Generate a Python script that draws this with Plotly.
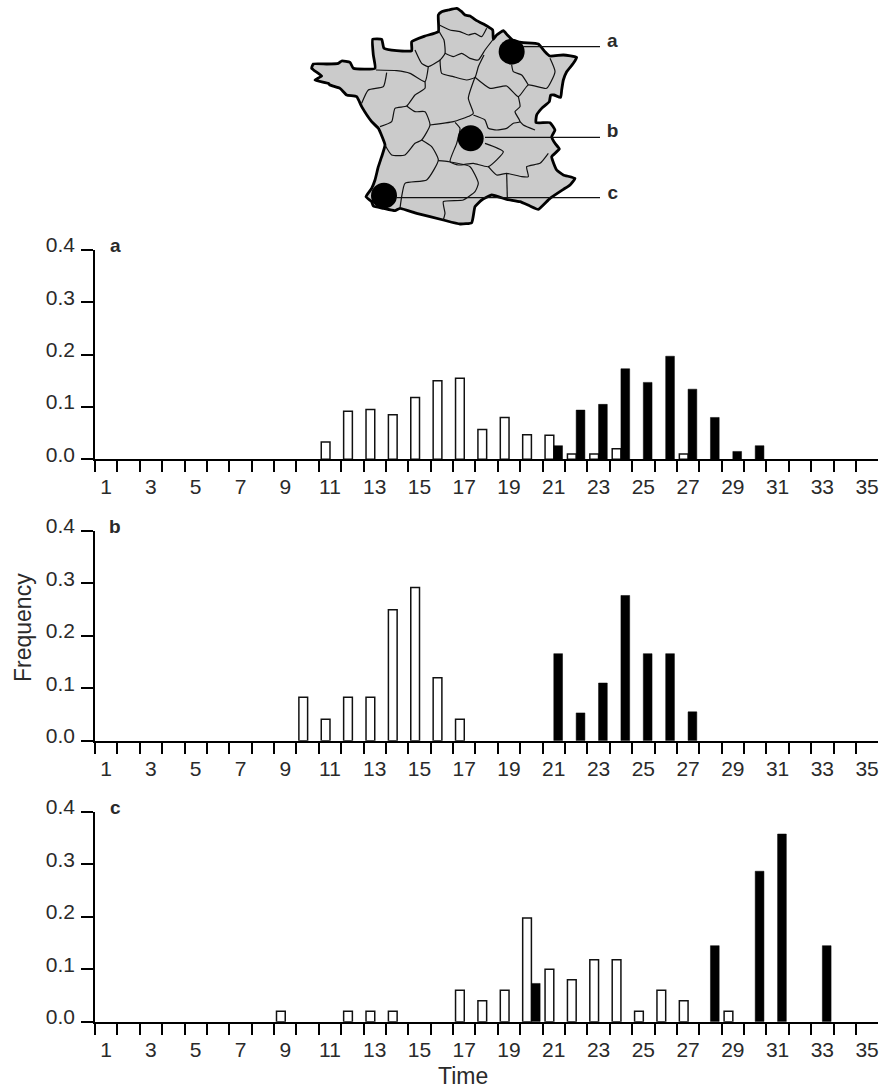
import plotly.graph_objects as go

W, H = 880, 1088
categories = list(range(1, 36))
tick_labels = list(range(1, 36, 2))
y_ticks = [0.0, 0.1, 0.2, 0.3, 0.4]

a_open = {11:.033,12:.092,13:.095,14:.085,15:.118,16:.15,17:.155,18:.057,19:.08,20:.047,21:.046,22:.01,23:.01,24:.02,27:.01}
a_solid = {21:.026,22:.094,23:.105,24:.173,25:.147,26:.197,27:.134,28:.08,29:.015,30:.026}
b_open = {10:.083,11:.041,12:.083,13:.083,14:.25,15:.292,16:.12,17:.041}
b_solid = {21:.166,22:.053,23:.11,24:.277,25:.166,26:.166,27:.055}
c_open = {9:.02,12:.02,13:.02,14:.02,17:.06,18:.04,19:.06,20:.198,21:.1,22:.08,23:.118,24:.118,25:.02,26:.06,27:.04,29:.02}
c_solid = {20:.073,28:.145,30:.287,31:.358,33:.145}

map_outline = [(415,45),(425,35),(445,30),(470,25),(485,35),(495,45),(510,48),(530,62),(550,72),(578,90),(580,118),(590,105),(610,92),(622,105),(640,122),(670,128),(715,132),(735,155),(750,168),(790,165),(830,172),(820,190),(800,215),(790,240),(785,270),(782,292),(762,285),(752,285),(748,305),(725,325),(710,345),(708,368),(750,368),(765,390),(755,410),(765,430),(778,447),(755,470),(770,510),(790,525),(825,535),(810,555),(790,568),(750,595),(715,628),(690,618),(660,605),(620,598),(575,585),(545,600),(525,620),(515,668),(480,672),(430,660),(350,640),(300,625),(285,632),(250,625),(220,618),(215,605),(198,590),(215,565),(225,540),(235,500),(245,470),(255,435),(235,385),(215,365),(185,320),(170,290),(140,285),(120,265),(90,255),(85,250),(45,240),(65,228),(35,205),(40,192),(80,192),(115,190),(125,183),(150,187),(160,205),(225,205),(220,165),(218,118),(245,118),(252,145),(290,152),(335,152),(335,125),(375,108),(415,95),(415,45)]
map_borders = [
 [(418,75),(450,90),(480,95),(505,105),(525,100),(545,110),(560,85)],
 [(418,75),(418,95),(432,120),(435,160),(420,180),(385,200),(365,190),(345,150)],
 [(435,160),(460,170),(485,160),(510,175),(535,180),(555,150),(578,120)],
 [(420,180),(425,220),(460,230),(500,240),(525,232),(535,200),(552,165)],
 [(228,210),(290,212),(330,220),(375,245),(385,200)],
 [(260,218),(250,260),(205,270),(185,310)],
 [(375,245),(375,265),(345,285),(320,318),(285,325),(275,365),(240,380)],
 [(320,318),(345,335),(375,335),(390,375),(365,420),(345,430),(315,465),(275,465),(255,435)],
 [(390,375),(460,365),(510,347),(520,340),(505,295),(525,232)],
 [(525,232),(570,265),(620,258),(655,290),(685,255),(740,265),(765,215),(750,175)],
 [(635,195),(640,215),(665,225),(685,255)],
 [(655,290),(660,320),(645,335),(660,365),(640,370),(620,385),(590,390),(565,385),(555,360),(520,345)],
 [(660,365),(670,375),(705,390)],
 [(465,367),(480,385),(470,430),(450,485),(475,495),(520,490),(565,500),(610,455),(555,430)],
 [(365,420),(395,440),(415,480),(380,540),(315,550),(305,590),(300,625)],
 [(415,482),(445,485),(510,500),(535,550),(525,575),(490,600),(430,605),(435,640),(430,660)],
 [(565,500),(590,525),(620,520),(665,530),(685,530),(680,500),(720,490),(745,460)],
 [(620,520),(622,595)],
]
site_names = ["a", "b", "c"]
site_x = [635, 512, 252]
site_y = [155, 415, 587]
leader_start = [670, 555, 290]
leader_y = [140, 412, 593]
leader_end = 900
label_x = [937, 938, 938]
label_y = [127, 397, 582]

panels = [("a", a_open, a_solid, 250, 459.3),
          ("b", b_open, b_solid, 531, 740.7),
          ("c", c_open, c_solid, 812, 1021.7)]

TXT = "#2a2a2a"
FONT = "Liberation Sans"
fig = go.Figure()
X0, X1 = 95, 878.3

def pick(d):
    return [d.get(c) for c in categories]

for i, (name, op, so, ytop, ybot) in enumerate(panels):
    s = "" if i == 0 else str(i + 1)
    fig.add_bar(x=categories, y=pick(op), xaxis="x" + s, yaxis="y" + s, marker=dict(color="white", line=dict(color="#111", width=1.5)), offsetgroup="o", showlegend=False)
    fig.add_bar(x=categories, y=pick(so), xaxis="x" + s, yaxis="y" + s, marker=dict(color="black", line=dict(color="black", width=0.5)), offsetgroup="s", showlegend=False)
    fig.layout["xaxis" + s] = dict(
        domain=[X0 / W, X1 / W], range=[0.5, 35.5], anchor="y" + s,
        tickmode="array", tickvals=tick_labels, ticktext=[str(t) for t in tick_labels],
        ticks="outside", ticklen=8, tickcolor="rgba(0,0,0,0)", tickfont=dict(family=FONT, size=21, color=TXT),
        showline=True, linecolor="black", linewidth=1.8, showgrid=False, zeroline=False,
        minor=dict(tickmode="array", tickvals=[c - 0.5 for c in categories], ticks="outside", ticklen=11, tickcolor="black", tickwidth=1.5, showgrid=False),
    )
    fig.layout["yaxis" + s] = dict(
        domain=[1 - ybot / H, 1 - ytop / H], range=[0, 0.4], anchor="x" + s,
        tickmode="array", tickvals=y_ticks, ticktext=["%.1f" % v for v in y_ticks],
        ticks="outside", ticklen=12, tickwidth=1.8, tickcolor="black", tickfont=dict(family=FONT, size=21, color=TXT),
        ticklabelshift=-5, ticklabelstandoff=2,
        showline=True, linecolor="black", linewidth=1.5, showgrid=False, zeroline=False,
    )
    fig.add_annotation(text="<b>%s</b>" % name, xref="paper", yref="paper", x=115 / W, y=1 - (ytop - 5) / H, xanchor="center", yanchor="middle", showarrow=False, font=dict(family=FONT, size=19, color=TXT))

# map
fig.add_scatter(x=[p[0] for p in map_outline], y=[p[1] for p in map_outline], xaxis="x4", yaxis="y4", mode="lines", fill="toself", fillcolor="#cbcbcb", line=dict(color="black", width=2.8, shape="spline", smoothing=0.4), showlegend=False)
for b in map_borders:
    fig.add_scatter(x=[p[0] for p in b], y=[p[1] for p in b], xaxis="x4", yaxis="y4", mode="lines", line=dict(color="#111", width=1.2, shape="spline", smoothing=0.5), showlegend=False)
for sx, ly in zip(leader_start, leader_y):
    fig.add_scatter(x=[sx, leader_end], y=[ly, ly], xaxis="x4", yaxis="y4", mode="lines", line=dict(color="#111", width=1.2), showlegend=False)
fig.add_scatter(x=site_x, y=site_y, xaxis="x4", yaxis="y4", mode="markers", marker=dict(color="black", size=26), showlegend=False)
fig.add_scatter(x=label_x, y=label_y, xaxis="x4", yaxis="y4", mode="text", text=["<b>%s</b>" % n for n in site_names], textfont=dict(family=FONT, size=19, color=TXT), showlegend=False)

fig.layout.xaxis4 = dict(domain=[300 / W, 640 / W], range=[0, 1020], visible=False, anchor="y4")
fig.layout.yaxis4 = dict(domain=[1 - 230 / H, 1], range=[690, 0], visible=False, anchor="x4")

fig.add_annotation(text="Frequency", xref="paper", yref="paper", x=23 / W, y=1 - 628 / H, xanchor="center", yanchor="middle", textangle=-90, showarrow=False, font=dict(family=FONT, size=23, color=TXT))
fig.add_annotation(text="Time", xref="paper", yref="paper", x=463 / W, y=1 - 1076 / H, xanchor="center", yanchor="middle", showarrow=False, font=dict(family=FONT, size=23, color=TXT))

fig.update_layout(width=W, height=H, margin=dict(l=0, r=0, t=0, b=0, autoexpand=False), paper_bgcolor="white", plot_bgcolor="white",
                  barmode="group", bargap=0.22, bargroupgap=0)
fig.write_html("out.html", config={"displayModeBar": False},
               post_script="document.body.style.margin='0';document.documentElement.style.overflow='hidden';")
